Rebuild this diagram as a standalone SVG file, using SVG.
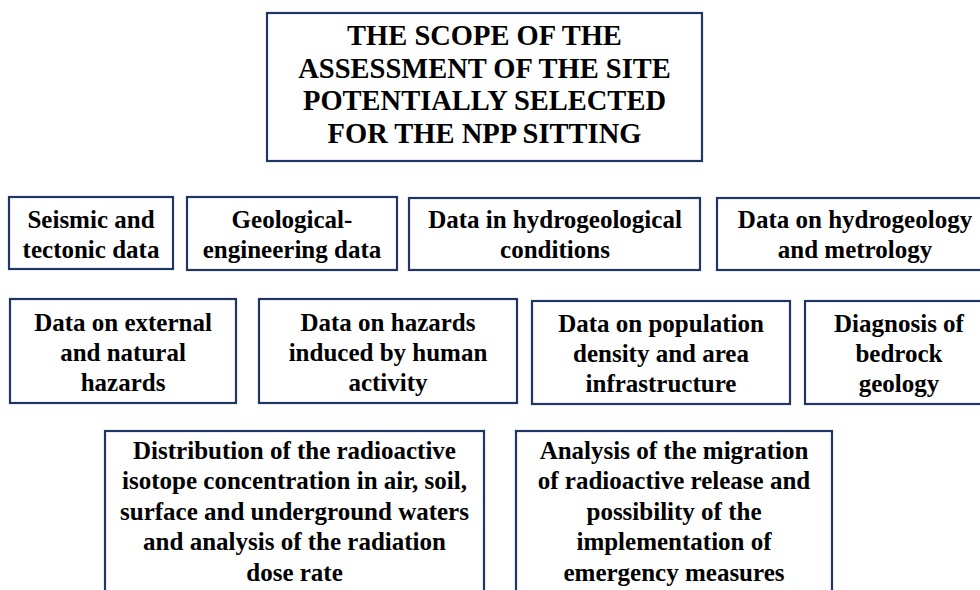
<svg xmlns="http://www.w3.org/2000/svg" width="980" height="590" viewBox="0 0 980 590">
<defs>
<rect id="bg" width="980" height="590" fill="#ffffff"/>
</defs>
<use href="#bg"/>
<g id="title" fill="#ffffff" stroke="#1f3763" stroke-width="2.2"><rect x="267" y="13" width="435" height="148"/></g>
<g id="title-text" fill="#000000" text-anchor="middle">
<text font-family="Liberation Serif" font-weight="bold" font-size="28.5" x="484.5" y="45">THE SCOPE OF THE</text>
<text font-family="Liberation Serif" font-weight="bold" font-size="28.5" x="484.5" y="78">ASSESSMENT OF THE SITE</text>
<text font-family="Liberation Serif" font-weight="bold" font-size="28.5" x="484.5" y="110">POTENTIALLY SELECTED</text>
<text font-family="Liberation Serif" font-weight="bold" font-size="28.5" x="484.5" y="143">FOR THE NPP SITTING</text></g>
<g id="seismic"><rect fill="#ffffff" stroke="#1f3763" stroke-width="2.2" x="9" y="197" width="164" height="72"/>
<text font-family="Liberation Serif" font-weight="bold" font-size="25" text-anchor="middle" x="91" y="228">Seismic and</text><text font-family="Liberation Serif" font-weight="bold" font-size="25" text-anchor="middle" x="91" y="258">tectonic data</text></g>
<g id="geological"><rect fill="#ffffff" stroke="#1f3763" stroke-width="2.2" x="187" y="197" width="210" height="73"/>
<text font-family="Liberation Serif" font-weight="bold" font-size="25" text-anchor="middle" x="292" y="228">Geological-</text><text font-family="Liberation Serif" font-weight="bold" font-size="25" text-anchor="middle" x="292" y="258">engineering data</text></g>
<g id="hydrogeological"><rect fill="#ffffff" stroke="#1f3763" stroke-width="2.2" x="409" y="198" width="291" height="72"/>
<text font-family="Liberation Serif" font-weight="bold" font-size="25" text-anchor="middle" x="555" y="228">Data in hydrogeological</text><text font-family="Liberation Serif" font-weight="bold" font-size="25" text-anchor="middle" x="555" y="258">conditions</text></g>
<g id="metrology"><rect fill="#ffffff" stroke="#1f3763" stroke-width="2.2" x="717" y="198" width="276" height="72"/>
<text font-family="Liberation Serif" font-weight="bold" font-size="25" text-anchor="middle" x="855" y="228">Data on hydrogeology</text><text font-family="Liberation Serif" font-weight="bold" font-size="25" text-anchor="middle" x="855" y="258">and metrology</text></g>
<g id="external"><rect fill="#ffffff" stroke="#1f3763" stroke-width="2.2" x="10" y="299" width="226" height="104"/>
<text font-family="Liberation Serif" font-weight="bold" font-size="25" text-anchor="middle" x="123" y="331">Data on external</text><text font-family="Liberation Serif" font-weight="bold" font-size="25" text-anchor="middle" x="123" y="361">and natural</text><text font-family="Liberation Serif" font-weight="bold" font-size="25" text-anchor="middle" x="123" y="391">hazards</text></g>
<g id="human"><rect fill="#ffffff" stroke="#1f3763" stroke-width="2.2" x="259" y="299" width="258" height="104"/>
<text font-family="Liberation Serif" font-weight="bold" font-size="25" text-anchor="middle" x="388" y="331">Data on hazards</text><text font-family="Liberation Serif" font-weight="bold" font-size="25" text-anchor="middle" x="388" y="361">induced by human</text><text font-family="Liberation Serif" font-weight="bold" font-size="25" text-anchor="middle" x="388" y="391">activity</text></g>
<g id="population"><rect fill="#ffffff" stroke="#1f3763" stroke-width="2.2" x="532" y="301" width="258" height="103"/>
<text font-family="Liberation Serif" font-weight="bold" font-size="25" text-anchor="middle" x="661" y="332">Data on population</text><text font-family="Liberation Serif" font-weight="bold" font-size="25" text-anchor="middle" x="661" y="362">density and area</text><text font-family="Liberation Serif" font-weight="bold" font-size="25" text-anchor="middle" x="661" y="392">infrastructure</text></g>
<g id="bedrock"><rect fill="#ffffff" stroke="#1f3763" stroke-width="2.2" x="805" y="301" width="188" height="103"/>
<text font-family="Liberation Serif" font-weight="bold" font-size="25" text-anchor="middle" x="899" y="332">Diagnosis of</text><text font-family="Liberation Serif" font-weight="bold" font-size="25" text-anchor="middle" x="899" y="362">bedrock</text><text font-family="Liberation Serif" font-weight="bold" font-size="25" text-anchor="middle" x="899" y="392">geology</text></g>
<g id="distribution"><rect fill="#ffffff" stroke="#1f3763" stroke-width="2.2" x="105" y="431" width="379" height="170"/>
<text font-family="Liberation Serif" font-weight="bold" font-size="25" text-anchor="middle" x="294.5" y="459">Distribution of the radioactive</text>
<text font-family="Liberation Serif" font-weight="bold" font-size="25" text-anchor="middle" x="294.5" y="489">isotope concentration in air, soil,</text>
<text font-family="Liberation Serif" font-weight="bold" font-size="25" text-anchor="middle" x="294.5" y="520">surface and underground waters</text>
<text font-family="Liberation Serif" font-weight="bold" font-size="25" text-anchor="middle" x="294.5" y="550">and analysis of the radiation</text>
<text font-family="Liberation Serif" font-weight="bold" font-size="25" text-anchor="middle" x="294.5" y="581">dose rate</text></g>
<g id="migration"><rect fill="#ffffff" stroke="#1f3763" stroke-width="2.2" x="516" y="431" width="316" height="170"/>
<text font-family="Liberation Serif" font-weight="bold" font-size="25" text-anchor="middle" x="674" y="459">Analysis of the migration</text>
<text font-family="Liberation Serif" font-weight="bold" font-size="25" text-anchor="middle" x="674" y="489">of radioactive release and</text>
<text font-family="Liberation Serif" font-weight="bold" font-size="25" text-anchor="middle" x="674" y="520">possibility of the</text>
<text font-family="Liberation Serif" font-weight="bold" font-size="25" text-anchor="middle" x="674" y="550">implementation of</text>
<text font-family="Liberation Serif" font-weight="bold" font-size="25" text-anchor="middle" x="674" y="581">emergency measures</text></g>
<g id="connectors"></g>
</svg>
